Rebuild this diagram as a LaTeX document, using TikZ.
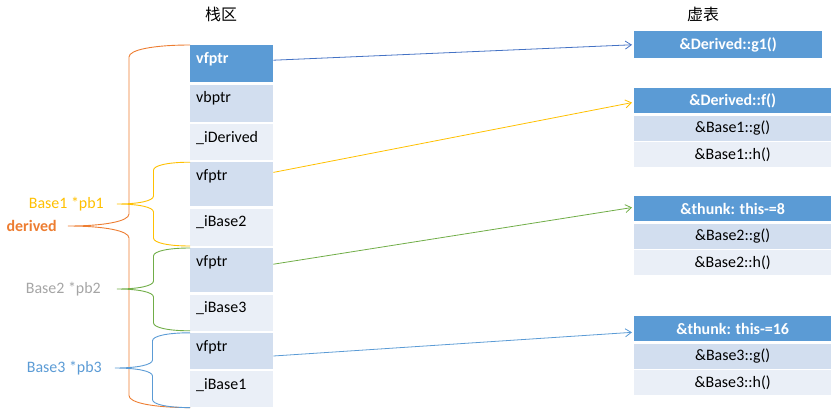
\documentclass[tikz,border=0pt]{standalone}
\usepackage{fontspec}
\setmainfont{Carlito}
\newfontfamily\cjk{Noto Sans CJK SC}
\usetikzlibrary{arrows.meta, positioning, calc}
\definecolor{cdark}{HTML}{5B9BD5}
\definecolor{cmid}{HTML}{D2DEEF}
\definecolor{clight}{HTML}{EAEFF7}
\definecolor{corange}{HTML}{ED7D31}
\definecolor{cyellow}{HTML}{FFC000}
\definecolor{cgreen}{HTML}{70AD47}
\definecolor{cgray}{HTML}{A5A5A5}
\definecolor{cblue}{HTML}{4472C4}
% left curly brace: style, upper end, tip, lower end, half width, curl
\newcommand{\pbrace}[6]{%
  \draw[#1] (#2) .. controls +(-0.6*#5,0) and +(0,-0.6*#6) .. ($(#2)+(-#5,#6)$)
    -- ($(#3)+(#5,-#6)$) .. controls +(0,0.6*#6) and +(0.6*#5,0) .. (#3)
    .. controls +(0.6*#5,0) and +(0,-0.6*#6) .. ($(#3)+(#5,#6)$)
    -- ($(#4)+(-#5,-#6)$) .. controls +(0,0.6*#6) and +(-0.6*#5,0) .. (#4);}

\begin{document}
\begin{tikzpicture}[
  x=1bp, y=-1bp,
  font=\fontsize{16}{19}\selectfont,
  cell/.style={anchor=north west, inner xsep=6bp, inner ysep=5bp, text width=71bp,
               align=left, text height=13bp, text depth=#1},
  hdr/.style={anchor=north west, fill=cdark, text=white, font=\fontsize{16}{19}\selectfont\bfseries,
              minimum width=197bp, minimum height=25bp, inner sep=0pt},
  fn/.style={hdr, text=black, font=\fontsize{16}{19}\selectfont},
  title/.style={font=\cjk\fontsize{16}{19}\selectfont},
  ptr/.style={font=\fontsize{16}{19}\selectfont, inner sep=2bp},
  link/.style={-{Straight Barb[length=6bp,width=8bp]}, line width=0.8pt, shorten >=2bp},
  brc/.style={line width=0.9pt}
]
\useasboundingbox (0,0) rectangle (840,415);
\node[title] (stk) at (221,14) {栈区};
\node[title] (vtb) at (703,14) {虚表};

% stack
\node[cell=14bp, fill=cdark, text=white, font=\fontsize{16}{19}\selectfont\bfseries] (r1) at (190,45) {vfptr};
\node[cell=14bp, fill=cmid, below=2bp of r1] (r2) {vbptr};
\node[cell=13bp, fill=clight, below=2bp of r2] (r3) {\_iDerived};
\node[cell=21bp, fill=cmid, below=2bp of r3] (r4) {vfptr};
\node[cell=14bp, fill=clight, below=2bp of r4] (r5) {\_iBase2};
\node[cell=21bp, fill=cmid, below=2bp of r5] (r6) {vfptr};
\node[cell=13bp, fill=clight, below=2bp of r6] (r7) {\_iBase3};
\node[cell=13bp, fill=cmid, below=2bp of r7] (r8) {vfptr};
\node[cell=13bp, fill=clight, below=2bp of r8] (r9) {\_iBase1};

% virtual tables
\node[hdr, minimum width=188bp, minimum height=27bp] (h1) at (634,31) {\&Derived::g1()};
\node[hdr] (h2) at (634,88) {\&Derived::f()};
\node[fn, fill=cmid, below=2bp of h2] (g2) {\&Base1::g()};
\node[fn, fill=clight, below=1bp of g2] (k2) {\&Base1::h()};
\node[hdr] (h3) at (634,196) {\&thunk: this-=8};
\node[fn, fill=cmid, below=2bp of h3] (g3) {\&Base2::g()};
\node[fn, fill=clight, below=1bp of g3] (k3) {\&Base2::h()};
\node[hdr] (h4) at (634,316) {\&thunk: this-=16};
\node[fn, fill=cmid, below=2bp of h4] (g4) {\&Base3::g()};
\node[fn, fill=clight, below=1bp of g4] (k4) {\&Base3::h()};

% pointers
\coordinate (tipd) at (68,226);
\coordinate (tip1) at (117,204);
\coordinate (tip2) at (117,289);
\coordinate (tip3) at (115,368);
\node[ptr, text=corange, font=\fontsize{16}{19}\selectfont\bfseries, left=9bp of tipd] (drv) {derived};
\node[ptr, text=cyellow, left=11bp of tip1] (pb1) {Base1 *pb1};
\node[ptr, text=cgray, left=14bp of tip2] (pb2) {Base2 *pb2};
\node[ptr, text=cdark, left=11bp of tip3] (pb3) {Base3 *pb3};

\pbrace{brc, draw=corange}{r1.north west}{tipd}{r9.south west}{61}{12}
\pbrace{brc, draw=cyellow}{r4.north west}{tip1}{r5.south west}{36.5}{8}
\pbrace{brc, draw=cgreen}{r6.north west}{tip2}{r7.south west}{36.5}{8}
\pbrace{brc, draw=cdark}{r8.north west}{tip3}{r9.south west}{37.5}{8}

\draw[link, draw=cblue]   ([yshift=3.5bp]r1.east) -- (h1.west);
\draw[link, draw=cyellow] ([yshift=12bp]r4.east)  -- ([yshift=-1.5bp]h2.west);
\draw[link, draw=cgreen]  ([yshift=6bp]r6.east)   -- ([yshift=1.5bp]h3.west);
\draw[link, draw=cdark]   ([yshift=-5bp]r8.east)  -- ([yshift=-3.5bp]h4.west);
\end{tikzpicture}
\end{document}
